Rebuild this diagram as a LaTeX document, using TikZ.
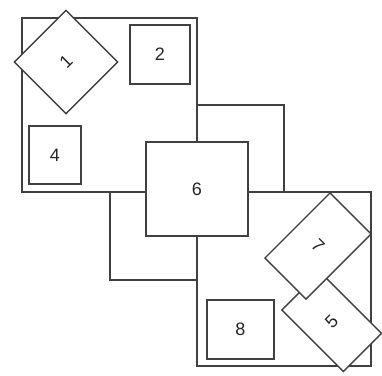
\documentclass[tikz,border=0pt]{standalone}
\usepackage{fontspec}
\setmainfont{Liberation Sans}
\begin{document}
\begin{tikzpicture}[x=1pt,y=-1pt,
  box/.style={draw=black!75, line width=1.4pt, fill=white, inner sep=0pt,
    outer sep=0pt, font=\fontsize{18}{18}\selectfont, text=black!85},
  sz/.style 2 args={minimum width=#1pt, minimum height=#2pt}]
\useasboundingbox (0,0) rectangle (382,375);
% large background squares
\node[box, sz={175}{174}] (A) at (109.5,105) {};
\node[box, sz={87}{87}]   (B) at (240.5,148.5) {};
\node[box, sz={87}{88}]   (C) at (153.5,236) {};
\node[box, sz={174}{174}] (D) at (284,279) {};
% small items
\node[box, sz={60}{59}] (n2) at (160,54.5) {2};
\node[box, sz={52}{58}] (n4) at (55,155) {4};
\node[box, sz={73}{73}, rotate=45] (n1) at (66,62) {1};
\node[box, sz={67}{59}] (n8) at (240.5,329.5) {8};
\node[box, sz={54}{87}, rotate=45] (n5) at (331.7,321.7) {5};
\node[box, sz={58}{92}, rotate=-45] (n7) at (318,246) {7};
\node[box, sz={102}{94}] (n6) at (197,189) {6};
\end{tikzpicture}
\end{document}
